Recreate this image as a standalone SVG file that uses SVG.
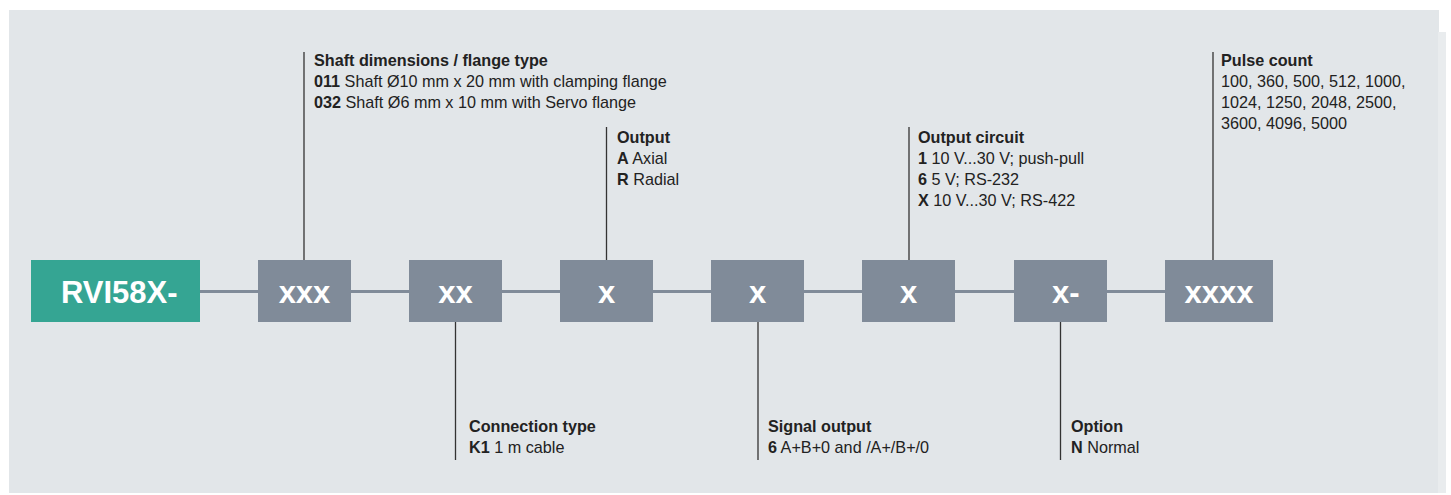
<svg xmlns="http://www.w3.org/2000/svg" width="1451" height="495" viewBox="0 0 1451 495">
<style>
.bg{fill:#e2e6e9}
.box{fill:#808b99}
.lead{fill:#35a593}
.conn{stroke:#808b99;stroke-width:3;fill:none}
.lbl{stroke:#333;stroke-width:1.3;fill:none}
.bt{font-family:"Liberation Sans",Arial,sans-serif;font-weight:bold;fill:#fff;font-size:31px}
.t{font-family:"Liberation Sans",Arial,sans-serif;font-size:16.2px;fill:#222}
.h{font-weight:bold}
</style>
<rect x="0" y="0" width="1451" height="495" fill="#fff"/>
<rect class="bg" x="9" y="10" width="1430" height="483"/>
<rect x="1438" y="32" width="8" height="461" fill="#e9ecee"/>
<g id="connectors">
<line class="conn" x1="199" y1="291.5" x2="1166" y2="291.5"/>
<line class="lbl" x1="304" y1="52" x2="304" y2="260"/>
<line class="lbl" x1="455.5" y1="322" x2="455.5" y2="460"/>
<line class="lbl" x1="606.5" y1="127" x2="606.5" y2="260"/>
<line class="lbl" x1="758" y1="322" x2="758" y2="460"/>
<line class="lbl" x1="909" y1="127" x2="909" y2="260"/>
<line class="lbl" x1="1060.5" y1="322" x2="1060.5" y2="460"/>
<line class="lbl" x1="1213" y1="52" x2="1213" y2="260"/>
</g>
<g id="node-rvi">
<rect class="lead" x="31" y="260" width="169" height="62"/>
<text class="bt" x="61" y="303" font-size="30">RVI58X-</text>
</g>
<g id="node-xxx">
<rect class="box" x="258" y="260" width="93" height="62"/>
<text class="bt" x="304.5" y="303" text-anchor="middle">xxx</text>
</g>
<g id="node-xx">
<rect class="box" x="409" y="260" width="93" height="62"/>
<text class="bt" x="455.5" y="303" text-anchor="middle">xx</text>
</g>
<g id="node-x1">
<rect class="box" x="560" y="260" width="93" height="62"/>
<text class="bt" x="606.5" y="303" text-anchor="middle">x</text>
</g>
<g id="node-x2">
<rect class="box" x="711" y="260" width="93" height="62"/>
<text class="bt" x="757.5" y="303" text-anchor="middle">x</text>
</g>
<g id="node-x3">
<rect class="box" x="862" y="260" width="93" height="62"/>
<text class="bt" x="908.5" y="303" text-anchor="middle">x</text>
</g>
<g id="node-x4">
<rect class="box" x="1014" y="260" width="93" height="62"/>
<text class="bt" x="1052" y="303">x-</text>
</g>
<g id="node-xxxx">
<rect class="box" x="1165" y="260" width="108" height="62"/>
<text class="bt" x="1219" y="303" text-anchor="middle">xxxx</text>
</g>
<g id="label-shaft">
<text class="t h" x="314" y="66">Shaft dimensions / flange type</text>
<text class="t" x="314" y="87"><tspan class="h">011</tspan> Shaft Ø10 mm x 20 mm with clamping flange</text>
<text class="t" x="314" y="108"><tspan class="h">032</tspan> Shaft Ø6 mm x 10 mm with Servo flange</text>
</g>
<g id="label-output">
<text class="t h" x="617" y="143">Output</text>
<text class="t" x="617" y="164"><tspan class="h">A</tspan> Axial</text>
<text class="t" x="617" y="185"><tspan class="h">R</tspan> Radial</text>
</g>
<g id="label-circuit">
<text class="t h" x="918" y="143">Output circuit</text>
<text class="t" x="918" y="164"><tspan class="h">1</tspan> 10 V...30 V; push-pull</text>
<text class="t" x="918" y="185"><tspan class="h">6</tspan> 5 V; RS-232</text>
<text class="t" x="918" y="206"><tspan class="h">X</tspan> 10 V...30 V; RS-422</text>
</g>
<g id="label-pulse">
<text class="t h" x="1221" y="66">Pulse count</text>
<text class="t" x="1221" y="87">100, 360, 500, 512, 1000,</text>
<text class="t" x="1221" y="108">1024, 1250, 2048, 2500,</text>
<text class="t" x="1221" y="129">3600, 4096, 5000</text>
</g>
<g id="label-connection">
<text class="t h" x="469" y="432">Connection type</text>
<text class="t" x="469" y="453"><tspan class="h">K1</tspan> 1 m cable</text>
</g>
<g id="label-signal">
<text class="t h" x="768" y="432">Signal output</text>
<text class="t" x="768" y="453"><tspan class="h">6</tspan> A+B+0 and /A+/B+/0</text>
</g>
<g id="label-option">
<text class="t h" x="1071" y="432">Option</text>
<text class="t" x="1071" y="453"><tspan class="h">N</tspan> Normal</text>
</g>
</svg>
